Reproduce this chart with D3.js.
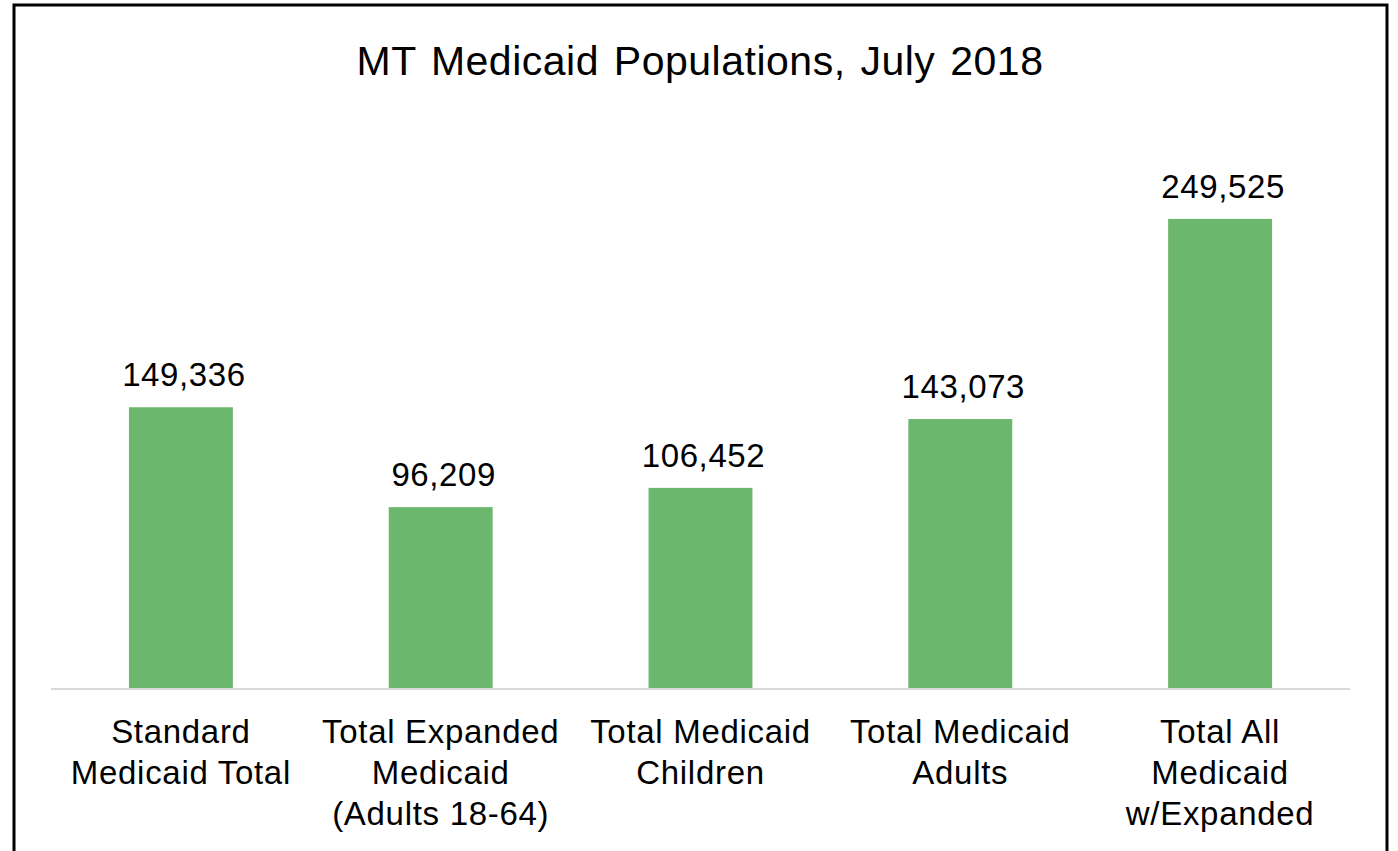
<!DOCTYPE html>
<html><head><meta charset="utf-8">
<script src="https://cdn.jsdelivr.net/npm/d3@7"></script>
<style>body{margin:0;background:#fff;} svg{display:block;font-family:"Liberation Sans",Arial,sans-serif;}</style>
</head><body>
<svg id="c" width="1398" height="851"></svg>
<script>
const categories = [
  ["Standard","Medicaid Total"],
  ["Total Expanded","Medicaid","(Adults 18-64)"],
  ["Total Medicaid","Children"],
  ["Total Medicaid","Adults"],
  ["Total All","Medicaid","w/Expanded"]
];
const values = [149336, 96209, 106452, 143073, 249525];
const title = "MT Medicaid Populations, July 2018";

const svg = d3.select("#c");
svg.append("rect").attr("x",14).attr("y",5).attr("width",1373).attr("height",870)
  .attr("fill","#fff").attr("stroke","#000").attr("stroke-width",3);

const x = d3.scaleBand().domain(d3.range(values.length)).range([51,1350]).paddingInner(0.6).paddingOuter(0.3);
const y = d3.scaleLinear().domain([0,300000]).range([688,124]);

svg.append("text").attr("x",700).attr("y",75).attr("text-anchor","middle")
  .attr("font-size",41).attr("letter-spacing",0.5).attr("word-spacing",3).text(title);

svg.selectAll("rect.bar").data(values).join("rect").attr("class","bar")
  .attr("x",(d,i)=>x(i)).attr("width",x.bandwidth())
  .attr("y",d=>y(d)).attr("height",d=>y(0)-y(d)).attr("fill","#6cb76e");

svg.append("line").attr("x1",51).attr("x2",1350).attr("y1",689).attr("y2",689)
  .attr("stroke","#d9d9d9").attr("stroke-width",2);

const fmt = d3.format(",");
svg.selectAll("text.val").data(values).join("text").attr("class","val")
  .attr("x",(d,i)=>x(i)+x.bandwidth()/2+3).attr("y",d=>y(d)-21)
  .attr("text-anchor","middle").attr("font-size",33).attr("letter-spacing",0.6).text(d=>fmt(d));

const cat = svg.selectAll("text.cat").data(categories).join("text").attr("class","cat")
  .attr("x",(d,i)=>x(i)+x.bandwidth()/2).attr("y",743)
  .attr("text-anchor","middle").attr("font-size",33).attr("letter-spacing",0.7);
cat.selectAll("tspan").data(d=>d).join("tspan")
  .attr("x",function(){return this.parentNode.getAttribute("x");})
  .attr("dy",(d,i)=>i===0?0:41).text(d=>d);
</script>
</body></html>
